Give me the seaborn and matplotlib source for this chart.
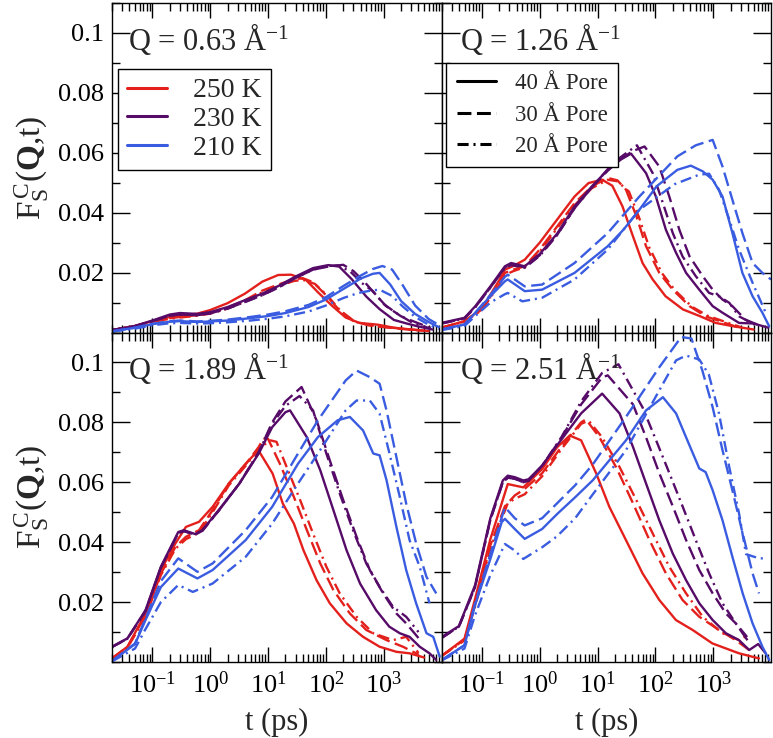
import numpy as np
import pandas as pd
import matplotlib
matplotlib.use("Agg")
import matplotlib.pyplot as plt
import seaborn as sns
from matplotlib.lines import Line2D
from matplotlib.ticker import FixedLocator, FixedFormatter, LogLocator, LogFormatterMathtext, MultipleLocator, NullFormatter

# ---------------- data ----------------
q_labels = ["0.63", "1.26", "1.89", "2.51"]
temps = ["250 K", "230 K", "210 K"]
pores = ["40 Å Pore", "30 Å Pore", "20 Å Pore"]
y_ticks = [0.02, 0.04, 0.06, 0.08, 0.1]
y_tick_labels = ["0.02", "0.04", "0.06", "0.08", "0.1"]
x_ticks = [0.1, 1, 10, 100, 1000]

# Q = 0.63
t_063_250_40 = [0.02, 0.05, 0.1, 0.2, 0.3, 0.6, 1, 2, 4, 8, 15, 25, 45, 75, 130, 220, 380, 800, 1500, 3000, 6000]
F_063_250_40 = [0.0008, 0.0022, 0.0038, 0.0052, 0.0057, 0.0063, 0.0075, 0.0098, 0.0130, 0.0170, 0.0192, 0.0193, 0.0176, 0.0132, 0.0088, 0.0050, 0.0032, 0.0026, 0.0016, 0.0010, 0.0005]
t_063_250_30 = [0.02, 0.05, 0.1, 0.2, 0.3, 0.6, 1, 2, 4, 8, 15, 28, 40, 60, 100, 170, 300, 550, 1000, 2000, 5000]
F_063_250_30 = [0.0008, 0.0021, 0.0036, 0.0048, 0.0052, 0.0058, 0.0065, 0.0083, 0.0108, 0.0140, 0.0160, 0.0178, 0.0181, 0.0168, 0.0125, 0.0075, 0.0038, 0.0024, 0.0018, 0.0012, 0.0006]
t_063_250_20 = [0.02, 0.05, 0.1, 0.2, 0.3, 0.6, 1, 2, 4, 8, 15, 28, 40, 65, 110, 180, 320, 600, 1100, 2200, 5000]
F_063_250_20 = [0.0008, 0.0020, 0.0035, 0.0046, 0.0050, 0.0056, 0.0063, 0.0080, 0.0104, 0.0135, 0.0155, 0.0172, 0.0176, 0.0162, 0.0120, 0.0072, 0.0036, 0.0024, 0.0018, 0.0012, 0.0006]
t_063_230_40 = [0.02, 0.05, 0.1, 0.2, 0.3, 0.6, 1, 2, 4, 8, 15, 30, 60, 110, 170, 280, 500, 850, 1500, 2500, 4000, 7000]
F_063_230_40 = [0.0008, 0.0022, 0.0040, 0.0060, 0.0065, 0.0062, 0.0068, 0.0085, 0.0108, 0.0130, 0.0155, 0.0187, 0.0215, 0.0225, 0.0220, 0.0178, 0.0120, 0.0078, 0.0042, 0.0030, 0.0020, 0.0010]
t_063_230_30 = [0.02, 0.05, 0.1, 0.2, 0.3, 0.6, 1, 2, 4, 8, 15, 30, 60, 110, 200, 300, 480, 700, 1100, 2000, 3500, 6500]
F_063_230_30 = [0.0008, 0.0021, 0.0038, 0.0056, 0.0060, 0.0058, 0.0064, 0.0080, 0.0102, 0.0125, 0.0150, 0.0182, 0.0210, 0.0220, 0.0226, 0.0205, 0.0166, 0.0130, 0.0088, 0.0054, 0.0035, 0.0015]
t_063_230_20 = [0.02, 0.05, 0.1, 0.2, 0.3, 0.6, 1, 2, 4, 8, 15, 30, 60, 110, 160, 260, 420, 650, 1000, 1800, 3000, 6000]
F_063_230_20 = [0.0008, 0.0021, 0.0038, 0.0056, 0.0060, 0.0058, 0.0064, 0.0080, 0.0102, 0.0125, 0.0150, 0.0182, 0.0210, 0.0222, 0.0224, 0.0205, 0.0165, 0.0138, 0.0095, 0.0060, 0.0035, 0.0015]
t_063_210_40 = [0.02, 0.05, 0.1, 0.2, 0.3, 0.6, 1, 2, 5, 10, 20, 50, 100, 200, 400, 650, 850, 1300, 2000, 3500, 6000, 9000]
F_063_210_40 = [0.0004, 0.0016, 0.0028, 0.0036, 0.0038, 0.0035, 0.0037, 0.0040, 0.0048, 0.0055, 0.0065, 0.0085, 0.0110, 0.0145, 0.0180, 0.0196, 0.0199, 0.0160, 0.0105, 0.0062, 0.0035, 0.0018]
t_063_210_30 = [0.02, 0.05, 0.1, 0.2, 0.3, 0.6, 1, 2, 5, 10, 20, 50, 100, 200, 400, 650, 950, 1400, 2100, 3500, 6000, 9000]
F_063_210_30 = [0.0004, 0.0016, 0.0029, 0.0038, 0.0040, 0.0037, 0.0039, 0.0043, 0.0052, 0.0060, 0.0071, 0.0092, 0.0118, 0.0155, 0.0190, 0.0212, 0.0222, 0.0210, 0.0160, 0.0090, 0.0045, 0.0025]
t_063_210_20 = [0.02, 0.05, 0.1, 0.2, 0.3, 0.6, 1, 2, 5, 10, 20, 50, 100, 200, 365, 600, 850, 1400, 2100, 3500, 6000, 9000]
F_063_210_20 = [0.0003, 0.0013, 0.0024, 0.0031, 0.0032, 0.0030, 0.0031, 0.0034, 0.0040, 0.0046, 0.0054, 0.0070, 0.0090, 0.0115, 0.0132, 0.0140, 0.0143, 0.0122, 0.0088, 0.0052, 0.0026, 0.0012]

# Q = 1.26
t_126_250_40 = [0.02, 0.05, 0.1, 0.2, 0.25, 0.35, 0.55, 1, 2, 4, 7, 12, 18, 27, 41, 60, 90, 150, 300, 600, 1100, 2200, 5000]
F_126_250_40 = [0.0016, 0.0038, 0.0080, 0.0175, 0.0210, 0.0222, 0.0243, 0.0300, 0.0377, 0.0454, 0.0499, 0.0510, 0.0490, 0.0421, 0.0321, 0.0232, 0.0177, 0.0121, 0.0077, 0.0054, 0.0032, 0.0021, 0.0010]
t_126_250_30 = [0.02, 0.05, 0.1, 0.2, 0.25, 0.35, 0.55, 1, 2, 4, 8, 15, 22, 31, 47, 69, 117, 200, 390, 740, 1600, 2800]
F_126_250_30 = [0.0016, 0.0037, 0.0077, 0.0165, 0.0199, 0.0210, 0.0221, 0.0277, 0.0354, 0.0432, 0.0488, 0.0516, 0.0508, 0.0477, 0.0388, 0.0288, 0.0199, 0.0143, 0.0088, 0.0054, 0.0032, 0.0016]
t_126_250_20 = [0.02, 0.05, 0.1, 0.2, 0.25, 0.35, 0.55, 1, 2, 4, 8, 15, 22, 35, 52, 78, 130, 220, 430, 800, 1700, 3000]
F_126_250_20 = [0.0016, 0.0036, 0.0075, 0.0160, 0.0192, 0.0205, 0.0218, 0.0270, 0.0348, 0.0425, 0.0482, 0.0510, 0.0505, 0.0470, 0.0385, 0.0285, 0.0198, 0.0140, 0.0086, 0.0056, 0.0034, 0.0018]
t_126_230_40 = [0.02, 0.05, 0.077, 0.14, 0.25, 0.32, 0.55, 1, 2, 4, 8, 15, 25, 38, 69, 102, 152, 228, 340, 575, 980, 1450, 2800, 5000, 9000]
F_126_230_40 = [0.0032, 0.0049, 0.0088, 0.0154, 0.0221, 0.0232, 0.0221, 0.0262, 0.0330, 0.0421, 0.0488, 0.0543, 0.0577, 0.0597, 0.0532, 0.0454, 0.0343, 0.0266, 0.0199, 0.0143, 0.0088, 0.0066, 0.0032, 0.0030, 0.0016]
t_126_230_30 = [0.02, 0.05, 0.077, 0.14, 0.25, 0.32, 0.55, 1, 2, 4, 8, 15, 25, 40, 65, 117, 174, 260, 390, 660, 980, 1450, 2150, 3600, 7000]
F_126_230_30 = [0.0030, 0.0047, 0.0085, 0.0150, 0.0218, 0.0228, 0.0218, 0.0258, 0.0326, 0.0415, 0.0485, 0.0540, 0.0578, 0.0605, 0.0621, 0.0554, 0.0454, 0.0343, 0.0254, 0.0188, 0.0143, 0.0110, 0.0088, 0.0043, 0.0020]
t_126_230_20 = [0.02, 0.05, 0.077, 0.14, 0.25, 0.32, 0.55, 1, 2, 4, 8, 15, 25, 48, 90, 135, 200, 295, 500, 850, 1260, 1900, 2800, 6000]
F_126_230_20 = [0.0030, 0.0047, 0.0085, 0.0150, 0.0215, 0.0225, 0.0216, 0.0256, 0.0325, 0.0415, 0.0485, 0.0545, 0.0585, 0.0625, 0.0532, 0.0432, 0.0332, 0.0254, 0.0188, 0.0132, 0.0121, 0.0099, 0.0054, 0.0020]
t_126_210_40 = [0.02, 0.05, 0.077, 0.14, 0.25, 0.28, 0.55, 1.1, 4, 15, 28, 53, 105, 240, 410, 660, 980, 1450, 2150, 3200, 4800, 7100, 9300]
F_126_210_40 = [0.0010, 0.0027, 0.0066, 0.0121, 0.0171, 0.0177, 0.0138, 0.0143, 0.0199, 0.0288, 0.0343, 0.0410, 0.0488, 0.0543, 0.0557, 0.0538, 0.0510, 0.0454, 0.0332, 0.0199, 0.0121, 0.0066, 0.0021]
t_126_210_30 = [0.02, 0.05, 0.077, 0.14, 0.25, 0.28, 0.55, 1.1, 4, 15, 53, 240, 500, 980, 1450, 2150, 3200, 4800, 7100, 10000]
F_126_210_30 = [0.0010, 0.0027, 0.0066, 0.0125, 0.0186, 0.0193, 0.0154, 0.0160, 0.0232, 0.0332, 0.0454, 0.0588, 0.0625, 0.0643, 0.0554, 0.0443, 0.0332, 0.0232, 0.0199, 0.0177]
t_126_210_20 = [0.02, 0.05, 0.077, 0.14, 0.25, 0.28, 0.5, 1.1, 4, 15, 53, 215, 340, 575, 850, 1260, 1900, 2800, 4800, 8100]
F_126_210_20 = [0.0008, 0.0022, 0.0055, 0.0100, 0.0128, 0.0132, 0.0104, 0.0116, 0.0177, 0.0277, 0.0410, 0.0495, 0.0510, 0.0527, 0.0530, 0.0477, 0.0377, 0.0277, 0.0166, 0.0066]

# Q = 1.89
t_189_250_40 = [0.02, 0.037, 0.076, 0.14, 0.25, 0.38, 0.64, 1.1, 2.1, 4.1, 6.8, 12, 18, 28, 41, 69, 117, 228, 440, 850, 1660, 2800, 5000]
F_189_250_40 = [0.0012, 0.0051, 0.0162, 0.0307, 0.0396, 0.0451, 0.0468, 0.0518, 0.0596, 0.0662, 0.0707, 0.0629, 0.0529, 0.0462, 0.0373, 0.0273, 0.0196, 0.0129, 0.0084, 0.0051, 0.0034, 0.0029, 0.0015]
t_189_250_30 = [0.02, 0.037, 0.076, 0.14, 0.25, 0.38, 0.64, 1.1, 2.1, 4.1, 6.9, 8.3, 10, 16, 28, 47, 80, 135, 260, 500, 1120, 2150, 4000]
F_189_250_30 = [0.0012, 0.0050, 0.0155, 0.0295, 0.0384, 0.0418, 0.0440, 0.0507, 0.0596, 0.0660, 0.0718, 0.0746, 0.0745, 0.0662, 0.0551, 0.0440, 0.0329, 0.0240, 0.0162, 0.0107, 0.0073, 0.0051, 0.0025]
t_189_250_20 = [0.02, 0.037, 0.076, 0.14, 0.25, 0.38, 0.64, 1.1, 2.1, 4.1, 6.9, 11, 14, 21, 36, 60, 102, 174, 340, 660, 1450, 2450, 4000]
F_189_250_20 = [0.0012, 0.0048, 0.0150, 0.0290, 0.0378, 0.0410, 0.0432, 0.0500, 0.0590, 0.0655, 0.0712, 0.0740, 0.0735, 0.0651, 0.0540, 0.0429, 0.0318, 0.0229, 0.0151, 0.0096, 0.0073, 0.0084, 0.0030]
t_189_230_40 = [0.02, 0.037, 0.076, 0.14, 0.28, 0.35, 0.55, 0.73, 1.4, 3.2, 6.9, 11.8, 20, 24, 47, 80, 135, 228, 390, 740, 1250, 1900, 2800, 4200, 6200, 8100]
F_189_230_40 = [0.0051, 0.0079, 0.0173, 0.0318, 0.0434, 0.0440, 0.0427, 0.0440, 0.0507, 0.0596, 0.0696, 0.0784, 0.0834, 0.0840, 0.0750, 0.0640, 0.0507, 0.0373, 0.0262, 0.0173, 0.0118, 0.0096, 0.0084, 0.0051, 0.0029, 0.0007]
t_189_230_30 = [0.02, 0.037, 0.076, 0.14, 0.28, 0.35, 0.55, 0.73, 1.4, 3.2, 6.9, 11.8, 20, 38, 69, 117, 200, 340, 575, 980, 1660, 2450, 4000]
F_189_230_30 = [0.0050, 0.0078, 0.0170, 0.0315, 0.0430, 0.0437, 0.0425, 0.0438, 0.0505, 0.0596, 0.0700, 0.0800, 0.0870, 0.0918, 0.0807, 0.0673, 0.0540, 0.0418, 0.0307, 0.0229, 0.0162, 0.0129, 0.0080]
t_189_230_20 = [0.02, 0.037, 0.076, 0.14, 0.28, 0.35, 0.55, 0.73, 1.4, 3.2, 6.9, 11.8, 20, 35, 60, 102, 174, 295, 500, 850, 1450, 2450, 4000]
F_189_230_20 = [0.0050, 0.0078, 0.0170, 0.0315, 0.0430, 0.0437, 0.0425, 0.0438, 0.0505, 0.0596, 0.0700, 0.0795, 0.0855, 0.0888, 0.0840, 0.0696, 0.0562, 0.0440, 0.0329, 0.0251, 0.0184, 0.0151, 0.0100]
t_189_210_40 = [0.02, 0.05, 0.076, 0.14, 0.28, 0.6, 1.1, 4.1, 11.8, 33, 73, 160, 260, 440, 660, 850, 1120, 1660, 2450, 3640, 5500, 7200, 9300]
F_189_210_40 = [0.0003, 0.0060, 0.0140, 0.0250, 0.0312, 0.0279, 0.0307, 0.0407, 0.0518, 0.0662, 0.0751, 0.0807, 0.0818, 0.0773, 0.0696, 0.0690, 0.0607, 0.0451, 0.0307, 0.0196, 0.0096, 0.0084, 0.0018]
t_189_210_30 = [0.02, 0.05, 0.076, 0.14, 0.28, 0.6, 1.1, 4.1, 11.8, 33, 73, 220, 340, 575, 850, 1120, 1660, 2450, 3640, 5500, 8100]
F_189_210_30 = [0.0003, 0.0062, 0.0145, 0.0270, 0.0346, 0.0301, 0.0329, 0.0440, 0.0551, 0.0696, 0.0807, 0.0940, 0.0973, 0.0951, 0.0929, 0.0840, 0.0684, 0.0529, 0.0396, 0.0284, 0.0229]
t_189_210_20 = [0.02, 0.05, 0.076, 0.14, 0.28, 0.5, 1.1, 4.1, 11.8, 33, 73, 220, 340, 575, 850, 1260, 1900, 2800, 4200, 6200]
F_189_210_20 = [0.0002, 0.0045, 0.0110, 0.0200, 0.0257, 0.0234, 0.0262, 0.0351, 0.0462, 0.0596, 0.0696, 0.0840, 0.0873, 0.0873, 0.0829, 0.0696, 0.0551, 0.0407, 0.0318, 0.0196]

# Q = 2.51
t_251_250_40 = [0.02, 0.05, 0.076, 0.14, 0.28, 0.52, 1.1, 2.0, 3.3, 5.2, 9.5, 16, 31, 60, 117, 227, 440, 970, 2800, 6200]
F_251_250_40 = [0.0020, 0.0078, 0.0210, 0.0410, 0.0594, 0.0583, 0.0644, 0.0717, 0.0756, 0.0740, 0.0629, 0.0518, 0.0407, 0.0296, 0.0207, 0.0140, 0.0107, 0.0062, 0.0029, 0.0012]
t_251_250_30 = [0.02, 0.05, 0.076, 0.14, 0.25, 0.37, 0.55, 1.1, 2.4, 5.2, 6.3, 10.8, 21, 41, 79, 152, 295, 575, 1260, 2450, 4200]
F_251_250_30 = [0.0020, 0.0075, 0.0190, 0.0390, 0.0520, 0.0556, 0.0578, 0.0630, 0.0720, 0.0800, 0.0810, 0.0750, 0.0650, 0.0530, 0.0407, 0.0296, 0.0207, 0.0151, 0.0107, 0.0073, 0.0040]
t_251_250_20 = [0.02, 0.05, 0.076, 0.14, 0.28, 0.37, 0.55, 1.1, 2.4, 5.2, 7, 12, 24, 47, 90, 174, 340, 660, 1450, 2800, 4000]
F_251_250_20 = [0.0020, 0.0072, 0.0185, 0.0380, 0.0530, 0.0545, 0.0560, 0.0620, 0.0712, 0.0795, 0.0806, 0.0750, 0.0651, 0.0540, 0.0429, 0.0318, 0.0229, 0.0151, 0.0096, 0.0073, 0.0090]
t_251_230_40 = [0.02, 0.04, 0.076, 0.14, 0.23, 0.28, 0.37, 0.52, 0.64, 1.1, 2.4, 5.2, 12, 24, 41, 69, 117, 200, 340, 575, 980, 1660, 2800, 4200, 6000, 8000]
F_251_230_40 = [0.0083, 0.0120, 0.0256, 0.0480, 0.0606, 0.0622, 0.0617, 0.0606, 0.0610, 0.0656, 0.0744, 0.0830, 0.0896, 0.0830, 0.0718, 0.0596, 0.0473, 0.0362, 0.0273, 0.0196, 0.0140, 0.0096, 0.0073, 0.0040, 0.0060, 0.0030]
t_251_230_30 = [0.02, 0.04, 0.076, 0.14, 0.23, 0.28, 0.37, 0.52, 0.64, 1.1, 2.4, 5.2, 12, 15, 41, 69, 117, 200, 340, 575, 980, 1660, 2460, 4000]
F_251_230_30 = [0.0080, 0.0118, 0.0250, 0.0475, 0.0600, 0.0615, 0.0612, 0.0600, 0.0605, 0.0655, 0.0750, 0.0860, 0.0950, 0.0957, 0.0860, 0.0750, 0.0630, 0.0520, 0.0407, 0.0307, 0.0229, 0.0162, 0.0129, 0.0070]
t_251_230_20 = [0.02, 0.04, 0.076, 0.14, 0.23, 0.28, 0.37, 0.52, 0.64, 1.1, 2.4, 5.2, 12, 23, 60, 103, 175, 295, 500, 850, 1450, 2460, 4000]
F_251_230_20 = [0.0080, 0.0118, 0.0250, 0.0475, 0.0600, 0.0615, 0.0612, 0.0600, 0.0605, 0.0655, 0.0752, 0.0870, 0.0965, 0.0994, 0.0850, 0.0740, 0.0630, 0.0520, 0.0407, 0.0296, 0.0196, 0.0129, 0.0080]
t_251_210_40 = [0.02, 0.05, 0.076, 0.14, 0.22, 0.25, 0.37, 0.55, 1.1, 2.0, 4.1, 8.3, 31, 69, 135, 228, 340, 575, 740, 980, 1450, 2150, 3240, 4800, 7100, 9300]
F_251_210_40 = [0.0006, 0.0056, 0.0190, 0.0344, 0.0467, 0.0478, 0.0444, 0.0411, 0.0444, 0.0494, 0.0550, 0.0607, 0.0740, 0.0840, 0.0884, 0.0830, 0.0750, 0.0646, 0.0634, 0.0573, 0.0473, 0.0351, 0.0229, 0.0129, 0.0051, 0.0007]
t_251_210_30 = [0.02, 0.05, 0.076, 0.14, 0.25, 0.37, 0.55, 1.1, 2.0, 4.1, 8.3, 31, 117, 280, 420, 650, 980, 1450, 2150, 3240, 4800, 6200]
F_251_210_30 = [0.0006, 0.0056, 0.0195, 0.0360, 0.0517, 0.0480, 0.0456, 0.0480, 0.0530, 0.0590, 0.0660, 0.0818, 0.0984, 0.1085, 0.1080, 0.0973, 0.0850, 0.0707, 0.0573, 0.0429, 0.0296, 0.0229]
t_251_210_20 = [0.02, 0.05, 0.076, 0.14, 0.25, 0.37, 0.52, 1.1, 2.0, 4.1, 8.3, 31, 117, 228, 340, 575, 840, 1260, 1900, 2800, 3700, 6200, 7500]
F_251_210_20 = [0.0005, 0.0045, 0.0156, 0.0290, 0.0394, 0.0372, 0.0344, 0.0383, 0.0420, 0.0480, 0.0560, 0.0707, 0.0907, 0.1007, 0.1023, 0.1010, 0.0960, 0.0830, 0.0650, 0.0496, 0.0360, 0.0346, 0.0346]

curves = [
    ("0.63", "250 K", "40 Å Pore", t_063_250_40, F_063_250_40),
    ("0.63", "250 K", "30 Å Pore", t_063_250_30, F_063_250_30),
    ("0.63", "250 K", "20 Å Pore", t_063_250_20, F_063_250_20),
    ("0.63", "230 K", "40 Å Pore", t_063_230_40, F_063_230_40),
    ("0.63", "230 K", "30 Å Pore", t_063_230_30, F_063_230_30),
    ("0.63", "230 K", "20 Å Pore", t_063_230_20, F_063_230_20),
    ("0.63", "210 K", "40 Å Pore", t_063_210_40, F_063_210_40),
    ("0.63", "210 K", "30 Å Pore", t_063_210_30, F_063_210_30),
    ("0.63", "210 K", "20 Å Pore", t_063_210_20, F_063_210_20),
    ("1.26", "250 K", "40 Å Pore", t_126_250_40, F_126_250_40),
    ("1.26", "250 K", "30 Å Pore", t_126_250_30, F_126_250_30),
    ("1.26", "250 K", "20 Å Pore", t_126_250_20, F_126_250_20),
    ("1.26", "230 K", "40 Å Pore", t_126_230_40, F_126_230_40),
    ("1.26", "230 K", "30 Å Pore", t_126_230_30, F_126_230_30),
    ("1.26", "230 K", "20 Å Pore", t_126_230_20, F_126_230_20),
    ("1.26", "210 K", "40 Å Pore", t_126_210_40, F_126_210_40),
    ("1.26", "210 K", "30 Å Pore", t_126_210_30, F_126_210_30),
    ("1.26", "210 K", "20 Å Pore", t_126_210_20, F_126_210_20),
    ("1.89", "250 K", "40 Å Pore", t_189_250_40, F_189_250_40),
    ("1.89", "250 K", "30 Å Pore", t_189_250_30, F_189_250_30),
    ("1.89", "250 K", "20 Å Pore", t_189_250_20, F_189_250_20),
    ("1.89", "230 K", "40 Å Pore", t_189_230_40, F_189_230_40),
    ("1.89", "230 K", "30 Å Pore", t_189_230_30, F_189_230_30),
    ("1.89", "230 K", "20 Å Pore", t_189_230_20, F_189_230_20),
    ("1.89", "210 K", "40 Å Pore", t_189_210_40, F_189_210_40),
    ("1.89", "210 K", "30 Å Pore", t_189_210_30, F_189_210_30),
    ("1.89", "210 K", "20 Å Pore", t_189_210_20, F_189_210_20),
    ("2.51", "250 K", "40 Å Pore", t_251_250_40, F_251_250_40),
    ("2.51", "250 K", "30 Å Pore", t_251_250_30, F_251_250_30),
    ("2.51", "250 K", "20 Å Pore", t_251_250_20, F_251_250_20),
    ("2.51", "230 K", "40 Å Pore", t_251_230_40, F_251_230_40),
    ("2.51", "230 K", "30 Å Pore", t_251_230_30, F_251_230_30),
    ("2.51", "230 K", "20 Å Pore", t_251_230_20, F_251_230_20),
    ("2.51", "210 K", "40 Å Pore", t_251_210_40, F_251_210_40),
    ("2.51", "210 K", "30 Å Pore", t_251_210_30, F_251_210_30),
    ("2.51", "210 K", "20 Å Pore", t_251_210_20, F_251_210_20),
]

rows = []
for q, T, pore, ts, Fs in curves:
    for tv, fv in zip(ts, Fs):
        rows.append({"Q": q, "T": T, "pore": pore, "t": tv, "F": fv})
df = pd.DataFrame(rows)

# ---------------- style ----------------
sns.set_style("ticks")
plt.rcParams["font.family"] = ["Liberation Serif", "DejaVu Serif"]
plt.rcParams["mathtext.fontset"] = "custom"
plt.rcParams["mathtext.rm"] = "Liberation Serif"
plt.rcParams["mathtext.it"] = "Liberation Serif:italic"
plt.rcParams["mathtext.bf"] = "Liberation Serif:bold"
plt.rcParams["lines.scale_dashes"] = False
plt.rcParams["axes.linewidth"] = 1.0

palette = {"250 K": "#e3201c", "230 K": "#560b68", "210 K": "#3a5ce0"}
dash_map = {"40 Å Pore": "", "30 Å Pore": (10, 4), "20 Å Pore": (8, 3.5, 1.5, 3.5)}

fig, axes = plt.subplots(2, 2, figsize=(7.73, 7.38), dpi=100, sharex=True, sharey=True)
fig.subplots_adjust(left=112 / 773, right=771 / 773, top=1 - 3 / 738, bottom=1 - 662 / 738,
                    wspace=0, hspace=0)

for ax, q in zip(axes.flat, q_labels):
    sub = df[df["Q"] == q]
    sns.lineplot(data=sub, x="t", y="F", hue="T", style="pore",
                 hue_order=temps, style_order=pores, palette=palette,
                 dashes=dash_map, estimator=None, sort=False, legend=False,
                 linewidth=1.7, ax=ax)
    ax.set_xscale("log")
    ax.set_xlim(0.02, 1e4)
    ax.set_ylim(0, 0.11)
    ax.xaxis.set_major_locator(FixedLocator(x_ticks))
    ax.xaxis.set_major_formatter(LogFormatterMathtext())
    ax.xaxis.set_minor_locator(LogLocator(base=10, subs=np.arange(2, 10), numticks=30))
    ax.xaxis.set_minor_formatter(NullFormatter())
    ax.yaxis.set_major_locator(FixedLocator(y_ticks))
    ax.yaxis.set_major_formatter(FixedFormatter(y_tick_labels))
    ax.yaxis.set_minor_locator(MultipleLocator(0.01))
    ax.tick_params(which="both", direction="in", top=True, right=True, width=1.0,
                   labelsize=19, colors="black")
    ax.tick_params(axis="x", which="major", length=11, pad=7)
    ax.tick_params(axis="y", which="major", length=13, pad=6)
    ax.tick_params(which="minor", length=6)
    ax.set_xlabel("")
    ax.set_ylabel("")
    xpos = 0.048 if ax in axes[:, 0] else 0.055
    ax.text(xpos, 0.892, "Q = " + q + r" Å$^{-1}$", transform=ax.transAxes,
            fontsize=22, ha="left", va="center")
    for s in ax.spines.values():
        s.set_visible(True)
        s.set_color("black")

for ax in axes[:, 0]:
    ax.set_ylabel(r"$\mathrm{F_S^{\,C}(}\mathbf{Q}\mathrm{{,}t)}$", fontsize=24, va="center")
    ax.yaxis.set_label_coords(-0.245, 0.5)
for ax in axes[1, :]:
    ax.set_xlabel("t (ps)", fontsize=22, va="center")
    ax.xaxis.set_label_coords(0.5, -0.185)
for ax in axes[0, :]:
    ax.tick_params(axis="x", labelbottom=False)
for ax in axes[:, 1]:
    ax.tick_params(axis="y", labelleft=False)

# legends
h1 = [Line2D([], [], color=palette[T], lw=2.2) for T in temps]
leg1 = axes[0, 0].legend(h1, temps, loc="upper left", bbox_to_anchor=(0.018, 0.80),
                         borderaxespad=0, frameon=True, fancybox=False, framealpha=1,
                         edgecolor="black", fontsize=20, handlelength=1.45,
                         handletextpad=0.95, labelspacing=0.12, borderpad=0.32)
leg1.get_frame().set_linewidth(1.0)

h2 = []
for p in pores:
    ln = Line2D([], [], color="black", lw=2.2)
    if dash_map[p]:
        ln.set_dashes(dash_map[p])
    h2.append(ln)
leg2 = axes[0, 1].legend(h2, pores, loc="upper left", bbox_to_anchor=(0.015, 0.818),
                         borderaxespad=0, frameon=True, fancybox=False, framealpha=1,
                         edgecolor="black", fontsize=16.5, handlelength=1.7,
                         handletextpad=0.85, labelspacing=0.45, borderpad=0.45)
leg2.get_frame().set_linewidth(1.0)

fig.savefig("out.png", dpi=100)
